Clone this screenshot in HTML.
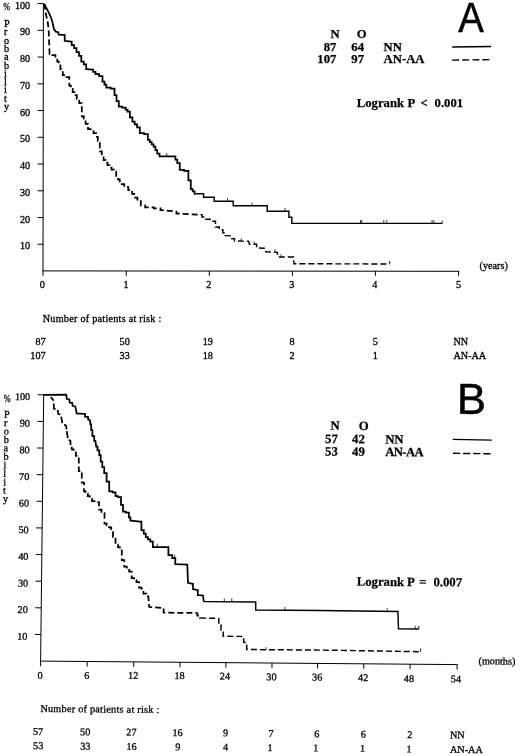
<!DOCTYPE html>
<html><head><meta charset="utf-8"><title>Figure</title>
<style>
html,body{margin:0;padding:0;background:#fff;}
svg{display:block;}
text{fill:#000;}
.r{font-family:"Liberation Serif",serif;font-size:10.2px;stroke:#000;stroke-width:0.3px;}
.b{font-family:"Liberation Serif",serif;font-size:12.7px;font-weight:bold;stroke:#000;stroke-width:0.25px;}
.big{font-family:"Liberation Sans",sans-serif;font-size:43.3px;stroke:#000;stroke-width:0.5px;}
</style></head><body>
<svg width="520" height="756" viewBox="0 0 520 756">
<rect x="0" y="0" width="520" height="756" fill="#fff"/>
<g stroke="#000" fill="none">
<line x1="43.40" y1="3.10" x2="43.00" y2="271.20" stroke-width="1.00" />
<line x1="42.60" y1="270.90" x2="459.10" y2="271.30" stroke-width="1.00" />
<line x1="37.60" y1="3.60" x2="43.40" y2="3.60" stroke-width="1.00" />
<line x1="37.60" y1="30.34" x2="43.40" y2="30.34" stroke-width="1.00" />
<line x1="37.60" y1="57.08" x2="43.40" y2="57.08" stroke-width="1.00" />
<line x1="37.60" y1="83.82" x2="43.40" y2="83.82" stroke-width="1.00" />
<line x1="37.60" y1="110.56" x2="43.40" y2="110.56" stroke-width="1.00" />
<line x1="37.60" y1="137.30" x2="43.40" y2="137.30" stroke-width="1.00" />
<line x1="37.60" y1="164.04" x2="43.40" y2="164.04" stroke-width="1.00" />
<line x1="37.60" y1="190.78" x2="43.40" y2="190.78" stroke-width="1.00" />
<line x1="37.60" y1="217.52" x2="43.40" y2="217.52" stroke-width="1.00" />
<line x1="37.60" y1="244.26" x2="43.40" y2="244.26" stroke-width="1.00" />
<line x1="43.00" y1="271.00" x2="43.00" y2="275.80" stroke-width="1.00" />
<line x1="126.25" y1="271.00" x2="126.25" y2="275.80" stroke-width="1.00" />
<line x1="209.30" y1="271.00" x2="209.30" y2="275.80" stroke-width="1.00" />
<line x1="292.40" y1="271.00" x2="292.40" y2="275.80" stroke-width="1.00" />
<line x1="375.40" y1="271.00" x2="375.40" y2="275.80" stroke-width="1.00" />
<line x1="458.60" y1="271.00" x2="458.60" y2="275.80" stroke-width="1.00" />
<path d="M44.2 3.8 L47.6 10.4 L50.5 16.3 L52.4 22.1 L53.9 28.8 L55.8 31.7 L55.8 31.7 L58.2 32.2 L58.7 34.6 L64.0 34.8 L64.7 34.8 L64.7 40.9 L65.4 40.9 L70.7 41.5 L71.7 41.5 L71.7 45.2 L72.6 45.2 L74.1 45.2 L74.1 48.0 L75.6 48.0 L76.5 48.0 L76.5 52.0 L77.5 52.0 L79.0 52.0 L79.0 55.8 L80.4 55.8 L81.3 55.8 L81.3 61.5 L82.3 61.5 L83.8 61.5 L83.8 64.4 L85.2 64.4 L86.2 64.4 L86.2 69.2 L87.1 69.2 L92.0 69.6 L93.2 69.6 L93.2 71.8 L95.5 71.8 L95.5 74.0 L96.7 74.0 L99.1 74.0 L99.1 76.0 L101.5 76.0 L102.5 76.0 L102.5 81.7 L103.5 81.7 L104.5 81.7 L104.5 84.6 L106.3 84.6 L106.3 87.5 L107.3 87.5 L110.7 87.5 L110.7 88.5 L114.0 88.5 L114.5 88.5 L114.5 95.2 L115.0 95.2 L116.5 95.2 L116.5 101.0 L117.9 101.0 L118.8 101.0 L118.8 106.7 L119.8 106.7 L122.2 106.7 L122.2 107.7 L124.6 107.7 L125.6 107.7 L125.6 109.6 L127.5 109.6 L127.5 111.5 L128.5 111.5 L129.9 111.5 L129.9 117.3 L131.3 117.3 L132.4 117.3 L132.4 121.5 L133.5 121.5 L134.7 121.5 L134.7 124.4 L137.1 124.4 L137.1 127.3 L138.3 127.3 L139.8 127.3 L139.8 133.0 L141.2 133.0 L144.1 133.0 L144.1 134.0 L146.9 134.0 L147.9 134.0 L147.9 139.8 L148.8 139.8 L149.8 139.8 L149.8 142.0 L151.7 142.0 L151.7 144.3 L153.6 144.3 L153.6 146.5 L154.6 146.5 L155.4 146.5 L155.4 150.0 L157.2 150.0 L157.2 153.5 L158.0 153.5 L159.5 153.5 L159.5 156.3 L161.0 156.3 L174.4 156.3 L175.4 156.3 L175.4 159.7 L177.3 159.7 L177.3 163.0 L178.3 163.0 L179.8 163.0 L179.8 169.8 L181.2 169.8 L184.1 169.8 L184.1 170.8 L187.0 170.8 L188.4 170.8 L188.4 180.4 L189.8 180.4 L190.8 180.4 L190.8 189.0 L191.7 189.0 L192.7 189.0 L192.7 191.4 L194.6 191.4 L194.6 193.8 L195.6 193.8" stroke-width="1.75" stroke-linejoin="miter"/>
<path d="M195.6 193.8 L203.6 193.8 L203.6 197.3 L214.2 197.3 L214.2 201.2 L233.2 201.2 L233.2 205.8 L267.2 205.8 L267.2 211.2 L288.9 211.2 L288.9 217.2 L291.8 217.2 L291.8 223.3 L442.0 223.4" stroke-width="1.40" stroke-linejoin="miter"/>
<line x1="442.00" y1="223.90" x2="442.30" y2="220.80" stroke-width="0.90" />
<line x1="166.70" y1="156.30" x2="166.70" y2="153.00" stroke-width="0.75" />
<line x1="227.50" y1="201.20" x2="227.50" y2="197.90" stroke-width="0.75" />
<line x1="252.00" y1="205.80" x2="252.00" y2="202.50" stroke-width="0.75" />
<line x1="285.00" y1="211.20" x2="285.00" y2="207.90" stroke-width="0.75" />
<line x1="360.50" y1="223.30" x2="360.50" y2="220.00" stroke-width="0.75" />
<line x1="361.70" y1="223.30" x2="361.70" y2="220.00" stroke-width="0.75" />
<line x1="383.80" y1="223.30" x2="383.80" y2="220.00" stroke-width="0.75" />
<line x1="386.80" y1="223.30" x2="386.80" y2="220.00" stroke-width="0.75" />
<line x1="432.00" y1="223.30" x2="432.00" y2="220.00" stroke-width="0.75" />
<line x1="433.80" y1="223.30" x2="433.80" y2="220.00" stroke-width="0.75" />
<path d="M44.3 3.8 L45.7 13.5 L47.6 21.2 L48.6 28.8 L49.0 38.5 L49.6 54.0 L49.6 54.0 L52.0 54.0 L52.0 55.0 L54.4 55.0 L55.4 55.0 L55.4 58.2 L57.3 58.2 L57.3 61.5 L58.3 61.5 L58.8 61.5 L58.8 63.5 L59.2 63.5 L60.4 63.5 L60.4 69.2 L62.8 69.2 L62.8 75.0 L64.0 75.0 L66.4 75.0 L66.4 77.0 L68.8 77.0 L69.3 77.0 L69.3 85.6 L69.8 85.6 L70.8 85.6 L70.8 88.8 L72.7 88.8 L72.7 92.0 L74.6 92.0 L74.6 95.2 L75.6 95.2 L76.8 95.2 L76.8 99.1 L79.2 99.1 L79.2 103.0 L80.4 103.0 L81.8 103.0 L81.8 116.3 L83.3 116.3 L83.8 116.3 L83.8 118.7 L84.4 118.7 L85.6 118.7 L85.6 123.9 L88.0 123.9 L88.0 129.2 L89.2 129.2 L90.7 129.2 L90.7 131.1 L93.5 131.1 L93.5 133.0 L95.0 133.0 L96.0 133.0 L96.0 136.9 L97.8 136.9 L97.8 140.8 L98.8 140.8 L99.8 140.8 L99.8 151.3 L100.8 151.3 L101.8 151.3 L101.8 155.7 L103.6 155.7 L103.6 160.0 L104.6 160.0 L105.6 160.0 L105.6 162.6 L107.5 162.6 L107.5 165.1 L109.4 165.1 L109.4 167.7 L110.4 167.7 L111.6 167.7 L111.6 169.6 L114.0 169.6 L114.0 171.5 L115.2 171.5 L116.2 171.5 L116.2 177.3 L117.1 177.3 L118.0 177.3 L118.0 179.3 L119.7 179.3 L119.7 181.3 L120.6 181.3 L121.8 181.3 L121.8 184.2 L124.2 184.2 L124.2 187.0 L125.4 187.0 L128.3 187.0 L128.3 190.0 L131.2 190.0 L132.1 190.0 L132.1 193.8 L134.1 193.8 L134.1 197.7 L135.0 197.7 L137.4 197.7 L137.4 199.6 L139.8 199.6 L140.8 199.6 L140.8 205.4 L141.7 205.4 L145.1 205.4 L145.1 207.3 L148.5 207.3 L153.8 207.3 L153.8 208.3 L159.0 208.3 L160.5 208.3 L160.5 210.2 L162.0 210.2 L175.4 211.5 L176.4 211.5 L176.4 213.5 L177.3 213.5 L200.6 214.8" stroke-width="1.75" stroke-linejoin="miter" stroke-dasharray="6 3"/>
<path d="M200.6 214.8 L202.0 214.8 L202.0 217.0 L204.9 217.0 L204.9 219.2 L206.3 219.2 L210.2 219.2 L210.2 221.2 L214.0 221.2 L215.5 221.2 L215.5 227.0 L217.0 227.0 L219.3 227.0 L219.3 229.8 L221.7 229.8 L222.9 229.8 L222.9 232.7 L225.3 232.7 L225.3 235.6 L226.5 235.6 L229.5 235.9 L230.2 235.9 L230.2 238.6 L231.0 238.6 L234.0 238.8 L234.5 238.8 L234.5 241.0 L235.0 241.0 L248.6 241.2 L249.4 244.2 L255.8 244.3 L256.6 244.3 L256.6 248.0 L257.3 248.0 L265.3 248.3 L265.8 251.8 L277.3 252.3 L278.0 257.0 L293.6 257.0 L293.9 263.7 L389.3 264.0" stroke-width="1.40" stroke-linejoin="miter" stroke-dasharray="6 3"/>
<line x1="389.50" y1="264.40" x2="389.80" y2="261.00" stroke-width="0.90" />
<line x1="241.20" y1="241.10" x2="241.20" y2="238.30" stroke-width="0.75" />
<line x1="254.20" y1="244.20" x2="254.20" y2="241.40" stroke-width="0.75" />
<line x1="275.00" y1="252.10" x2="275.00" y2="249.30" stroke-width="0.75" />
<line x1="281.00" y1="257.00" x2="281.00" y2="254.20" stroke-width="0.75" />
<line x1="452.10" y1="47.00" x2="491.10" y2="46.50" stroke-width="1.30" />
<line x1="452.10" y1="60.10" x2="490.20" y2="59.60" stroke-width="1.40" stroke-dasharray="7 3.1"/>
</g>
<text x="30.2" y="8.7" class="r" text-anchor="end" >100</text>
<text x="30.2" y="35.4" class="r" text-anchor="end" >90</text>
<text x="30.2" y="62.2" class="r" text-anchor="end" >80</text>
<text x="30.2" y="88.9" class="r" text-anchor="end" >70</text>
<text x="30.2" y="115.7" class="r" text-anchor="end" >60</text>
<text x="30.2" y="142.4" class="r" text-anchor="end" >50</text>
<text x="30.2" y="169.1" class="r" text-anchor="end" >40</text>
<text x="30.2" y="195.9" class="r" text-anchor="end" >30</text>
<text x="30.2" y="222.6" class="r" text-anchor="end" >20</text>
<text x="30.2" y="249.4" class="r" text-anchor="end" >10</text>
<text class="r" transform="translate(3.3 9.6) scale(0.8 1)">%</text>
<text x="4.0" y="27.0" class="r" text-anchor="start" >P</text>
<text x="4.0" y="35.3" class="r" text-anchor="start" >r</text>
<text x="4.0" y="43.6" class="r" text-anchor="start" >o</text>
<text x="4.0" y="51.9" class="r" text-anchor="start" >b</text>
<text x="4.0" y="60.2" class="r" text-anchor="start" >a</text>
<text x="4.0" y="68.5" class="r" text-anchor="start" >b</text>
<text x="4.0" y="76.8" class="r" text-anchor="start" >i</text>
<text x="4.0" y="85.1" class="r" text-anchor="start" >l</text>
<text x="4.0" y="93.4" class="r" text-anchor="start" >i</text>
<text x="4.0" y="101.7" class="r" text-anchor="start" >t</text>
<text x="4.0" y="110.0" class="r" text-anchor="start" >y</text>
<text x="42.4" y="288.2" class="r" text-anchor="middle" >0</text>
<text x="126.0" y="288.2" class="r" text-anchor="middle" >1</text>
<text x="208.9" y="288.2" class="r" text-anchor="middle" >2</text>
<text x="291.9" y="288.2" class="r" text-anchor="middle" >3</text>
<text x="374.8" y="288.2" class="r" text-anchor="middle" >4</text>
<text x="458.5" y="288.2" class="r" text-anchor="middle" >5</text>
<text x="479.6" y="269.0" class="r" text-anchor="start" >(years)</text>
<text x="42.7" y="322.2" class="r" text-anchor="start" textLength="118.6">Number of patients at risk :</text>
<text x="45.6" y="344.5" class="r" text-anchor="end" >87</text>
<text x="129.8" y="344.5" class="r" text-anchor="end" >50</text>
<text x="212.9" y="344.5" class="r" text-anchor="end" >19</text>
<text x="294.6" y="344.5" class="r" text-anchor="end" >8</text>
<text x="377.8" y="344.5" class="r" text-anchor="end" >5</text>
<text x="453.4" y="344.5" class="r" text-anchor="start" >NN</text>
<text x="45.6" y="359.0" class="r" text-anchor="end" >107</text>
<text x="129.8" y="359.0" class="r" text-anchor="end" >33</text>
<text x="212.9" y="359.0" class="r" text-anchor="end" >18</text>
<text x="294.6" y="359.0" class="r" text-anchor="end" >2</text>
<text x="377.8" y="359.0" class="r" text-anchor="end" >1</text>
<text x="453.4" y="359.0" class="r" text-anchor="start" >AN-AA</text>
<text x="335.0" y="37.6" class="b" text-anchor="middle" >N</text>
<text x="361.8" y="37.6" class="b" text-anchor="middle" >O</text>
<text x="336.4" y="50.8" class="b" text-anchor="end" >87</text>
<text x="364.0" y="50.8" class="b" text-anchor="end" >64</text>
<text x="383.6" y="50.8" class="b" text-anchor="start" >NN</text>
<text x="336.4" y="63.3" class="b" text-anchor="end" >107</text>
<text x="364.0" y="63.3" class="b" text-anchor="end" >97</text>
<text x="383.6" y="63.3" class="b" text-anchor="start" >AN-AA</text>
<text x="356.8" y="107.3" class="b" text-anchor="start" >Logrank</text>
<text x="407.4" y="107.3" class="b" text-anchor="start" >P</text>
<text x="420.6" y="107.3" class="b" text-anchor="start" >&lt;</text>
<text x="434.6" y="107.3" class="b" text-anchor="start" >0.001</text>
<text class="big" text-anchor="middle" transform="translate(471.0 31.8) scale(0.885 1)">A</text>
<g stroke="#000" fill="none">
<line x1="43.70" y1="394.30" x2="40.60" y2="661.60" stroke-width="1.00" />
<line x1="40.20" y1="661.10" x2="457.60" y2="664.60" stroke-width="1.00" />
<line x1="37.65" y1="394.75" x2="43.65" y2="394.80" stroke-width="1.00" />
<line x1="37.35" y1="421.38" x2="43.35" y2="421.43" stroke-width="1.00" />
<line x1="37.04" y1="448.01" x2="43.04" y2="448.06" stroke-width="1.00" />
<line x1="36.73" y1="474.64" x2="42.73" y2="474.69" stroke-width="1.00" />
<line x1="36.43" y1="501.27" x2="42.43" y2="501.32" stroke-width="1.00" />
<line x1="36.12" y1="527.90" x2="42.12" y2="527.95" stroke-width="1.00" />
<line x1="35.81" y1="554.53" x2="41.81" y2="554.58" stroke-width="1.00" />
<line x1="35.51" y1="581.16" x2="41.51" y2="581.21" stroke-width="1.00" />
<line x1="35.20" y1="607.79" x2="41.20" y2="607.84" stroke-width="1.00" />
<line x1="34.90" y1="634.42" x2="40.90" y2="634.47" stroke-width="1.00" />
<line x1="40.60" y1="661.10" x2="40.55" y2="666.10" stroke-width="1.00" />
<line x1="87.20" y1="661.49" x2="87.15" y2="666.49" stroke-width="1.00" />
<line x1="133.75" y1="661.88" x2="133.70" y2="666.88" stroke-width="1.00" />
<line x1="180.00" y1="662.27" x2="179.95" y2="667.27" stroke-width="1.00" />
<line x1="225.90" y1="662.66" x2="225.85" y2="667.66" stroke-width="1.00" />
<line x1="272.00" y1="663.04" x2="271.95" y2="668.04" stroke-width="1.00" />
<line x1="317.60" y1="663.43" x2="317.55" y2="668.43" stroke-width="1.00" />
<line x1="363.80" y1="663.81" x2="363.75" y2="668.81" stroke-width="1.00" />
<line x1="410.10" y1="664.20" x2="410.05" y2="669.20" stroke-width="1.00" />
<line x1="457.10" y1="664.60" x2="457.05" y2="669.60" stroke-width="1.00" />
<path d="M43.5 394.8 L66.3 394.7 L66.8 399.0 L69.3 399.2 L69.8 402.6 L72.2 402.8 L72.7 406.0 L75.2 406.2 L76.0 409.8 L76.7 413.3 L84.4 413.8 L85.0 413.8 L85.0 416.7 L85.5 416.7 L87.7 417.2 L88.2 417.2 L88.2 419.6 L88.8 419.6 L90.0 420.2 L90.4 424.4 L91.2 424.4 L91.2 430.2 L91.9 430.2 L92.4 430.2 L92.4 436.0 L92.9 436.0 L94.2 436.0 L94.2 440.8 L95.4 440.8 L96.2 446.5 L97.5 446.5 L97.5 450.4 L98.7 450.4 L99.3 450.4 L99.3 455.2 L100.0 455.2 L100.7 455.2 L100.7 461.5 L101.3 461.5 L102.3 461.5 L102.3 467.2 L104.2 467.2 L104.2 473.0 L105.2 473.0 L106.6 473.0 L106.6 481.7 L108.0 481.7 L109.2 481.7 L109.2 491.3 L110.4 491.3 L112.6 491.3 L112.6 492.3 L114.8 492.3 L115.5 492.3 L115.5 496.0 L116.2 496.0 L117.9 496.0 L117.9 497.0 L119.6 497.0 L121.0 497.0 L121.0 504.8 L122.5 504.8 L123.0 504.8 L123.0 511.5 L123.5 511.5 L125.9 511.5 L125.9 512.5 L128.3 512.5 L128.9 512.5 L128.9 517.3 L129.6 517.3 L130.4 517.3 L130.4 520.6 L131.3 520.6 L140.0 521.5 L141.4 521.5 L141.4 530.2 L142.9 530.2 L143.8 530.2 L143.8 533.6 L145.8 533.6 L145.8 537.0 L146.7 537.0 L147.9 537.0 L147.9 539.4 L150.3 539.4 L150.3 541.7 L151.5 541.7 L152.9 541.7 L152.9 547.0 L154.4 547.0 L167.0 547.0 L168.4 547.0 L168.4 555.2 L169.8 555.2 L172.2 555.2 L172.2 558.0 L174.6 558.0 L175.3 558.0 L175.3 564.2 L176.0 564.2 L187.3 564.6 L188.0 582.9 L192.5 583.8 L193.0 583.8 L193.0 589.2 L193.5 589.2 L197.3 590.0 L197.8 590.0 L197.8 595.0 L198.3 595.0 L203.0 595.5 L203.8 601.6" stroke-width="1.75" stroke-linejoin="miter"/>
<path d="M203.8 601.6 L255.0 601.9 L255.7 601.9 L255.7 610.0 L256.3 610.0 L320.0 610.5 L397.9 611.5 L398.5 628.8 L418.6 629.0" stroke-width="1.45" stroke-linejoin="miter"/>
<line x1="418.60" y1="629.50" x2="418.90" y2="626.00" stroke-width="0.90" />
<line x1="157.30" y1="547.00" x2="157.30" y2="543.70" stroke-width="0.75" />
<line x1="174.60" y1="558.00" x2="174.60" y2="554.70" stroke-width="0.75" />
<line x1="224.30" y1="601.70" x2="224.30" y2="598.40" stroke-width="0.75" />
<line x1="231.80" y1="601.70" x2="231.80" y2="598.40" stroke-width="0.75" />
<line x1="285.00" y1="610.30" x2="285.00" y2="607.00" stroke-width="0.75" />
<line x1="387.20" y1="611.40" x2="387.20" y2="608.10" stroke-width="0.75" />
<line x1="415.20" y1="629.00" x2="415.20" y2="625.70" stroke-width="0.75" />
<path d="M50.8 397.1 L53.7 400.6" stroke-width="1.7"/>
<path d="M53.7 403.5 L54.0 408.9 L55.6 409.2" stroke-width="1.7"/>
<path d="M57.7 409.8 L58.3 414.0 L60.4 414.4" stroke-width="1.7"/>
<path d="M61.2 416.7 L62.3 423.1" stroke-width="1.7"/>
<path d="M64.0 424.8 L65.8 425.2 L66.7 429.4" stroke-width="1.7"/>
<path d="M66.7 431.2 L67.8 438.1" stroke-width="1.7"/>
<path d="M68.7 440.2 L70.4 440.6 L70.6 445.2" stroke-width="1.7"/>
<path d="M70.8 447.5 L71.8 447.5 L71.8 449.4 L73.6 449.4 L73.6 451.3 L74.6 451.3 L75.9 451.3 L75.9 455.8 L77.3 455.8 L78.8 455.8 L78.8 471.0 L80.2 471.0 L81.8 471.0 L81.8 482.7 L83.5 482.7 L84.0 482.7 L84.0 491.3 L84.6 491.3 L85.6 491.3 L85.6 493.6 L87.8 493.6 L87.8 496.0 L88.8 496.0 L89.8 496.0 L89.8 498.5 L92.0 498.5 L92.0 501.0 L93.0 501.0 L95.8 501.0 L95.8 502.0 L98.5 502.0 L99.0 502.0 L99.0 509.6 L99.4 509.6 L101.5 509.6 L101.5 512.9 L103.5 512.9 L104.5 512.9 L104.5 523.5 L105.4 523.5 L106.6 523.5 L106.6 525.4 L109.0 525.4 L109.0 527.3 L110.2 527.3 L111.2 527.3 L111.2 532.1 L113.0 532.1 L113.0 537.0 L114.0 537.0 L115.5 537.0 L115.5 544.6 L117.0 544.6 L118.0 544.6 L118.0 547.0 L119.8 547.0 L119.8 549.4 L120.8 549.4 L121.8 549.4 L121.8 560.0 L122.7 560.0 L124.2 560.0 L124.2 566.7 L125.6 566.7 L126.8 566.7 L126.8 569.1 L129.2 569.1 L129.2 571.5 L130.4 571.5 L131.7 571.5 L131.7 578.0 L132.9 578.0 L134.1 578.0 L134.1 580.0 L136.5 580.0 L136.5 582.0 L137.7 582.0 L139.1 582.0 L139.1 587.7 L140.6 587.7 L141.6 587.7 L141.6 590.6 L143.4 590.6 L143.4 593.5 L144.4 593.5 L146.4 593.5 L146.4 596.3 L148.3 596.3 L149.2 607.0 L162.7 607.9 L163.6 607.9 L163.6 612.7 L164.6 612.7 L196.3 613.0 L197.3 613.0 L197.3 615.5 L199.2 615.5 L199.2 618.0 L200.2 618.0" stroke-width="1.75" stroke-linejoin="miter" stroke-dasharray="6 3"/>
<path d="M200.2 618.0 L218.0 618.4 L218.8 618.4 L218.8 625.0 L219.5 625.0 L221.0 625.0 L221.0 630.0 L222.5 630.0 L223.2 630.0 L223.2 636.3 L223.8 636.3 L242.5 636.4 L243.6 636.5 L243.8 642.3 L246.6 642.5 L246.8 649.5 L330.0 650.2 L418.8 651.7" stroke-width="1.45" stroke-linejoin="miter" stroke-dasharray="6 3"/>
<line x1="420.30" y1="651.80" x2="420.70" y2="648.50" stroke-width="0.90" />
<line x1="266.00" y1="650.00" x2="266.00" y2="647.20" stroke-width="0.75" />
<line x1="452.80" y1="439.40" x2="491.80" y2="440.20" stroke-width="1.30" />
<line x1="453.00" y1="453.30" x2="491.00" y2="453.80" stroke-width="1.40" stroke-dasharray="7.2 2.9"/>
</g>
<text x="30.2" y="400.1" class="r" text-anchor="end" transform="rotate(0.50 30.2 400.1)" >100</text>
<text x="29.9" y="426.7" class="r" text-anchor="end" transform="rotate(0.50 29.9 426.7)" >90</text>
<text x="29.6" y="453.4" class="r" text-anchor="end" transform="rotate(0.50 29.6 453.4)" >80</text>
<text x="29.3" y="480.0" class="r" text-anchor="end" transform="rotate(0.50 29.3 480.0)" >70</text>
<text x="29.0" y="506.6" class="r" text-anchor="end" transform="rotate(0.50 29.0 506.6)" >60</text>
<text x="28.7" y="533.2" class="r" text-anchor="end" transform="rotate(0.50 28.7 533.2)" >50</text>
<text x="28.4" y="559.9" class="r" text-anchor="end" transform="rotate(0.50 28.4 559.9)" >40</text>
<text x="28.1" y="586.5" class="r" text-anchor="end" transform="rotate(0.50 28.1 586.5)" >30</text>
<text x="27.8" y="613.1" class="r" text-anchor="end" transform="rotate(0.50 27.8 613.1)" >20</text>
<text x="27.4" y="639.8" class="r" text-anchor="end" transform="rotate(0.50 27.4 639.8)" >10</text>
<text class="r" transform="translate(3.8 401.7) scale(0.8 1)">%</text>
<text x="4.0" y="417.5" class="r" text-anchor="start" transform="rotate(0.50 4.0 417.5)" >P</text>
<text x="3.9" y="426.0" class="r" text-anchor="start" transform="rotate(0.50 3.9 426.0)" >r</text>
<text x="3.8" y="434.4" class="r" text-anchor="start" transform="rotate(0.50 3.8 434.4)" >o</text>
<text x="3.7" y="442.9" class="r" text-anchor="start" transform="rotate(0.50 3.7 442.9)" >b</text>
<text x="3.6" y="451.3" class="r" text-anchor="start" transform="rotate(0.50 3.6 451.3)" >a</text>
<text x="3.5" y="459.8" class="r" text-anchor="start" transform="rotate(0.50 3.5 459.8)" >b</text>
<text x="3.4" y="468.3" class="r" text-anchor="start" transform="rotate(0.50 3.4 468.3)" >i</text>
<text x="3.3" y="476.7" class="r" text-anchor="start" transform="rotate(0.50 3.3 476.7)" >l</text>
<text x="3.2" y="485.2" class="r" text-anchor="start" transform="rotate(0.50 3.2 485.2)" >i</text>
<text x="3.1" y="493.6" class="r" text-anchor="start" transform="rotate(0.50 3.1 493.6)" >t</text>
<text x="3.0" y="502.1" class="r" text-anchor="start" transform="rotate(0.50 3.0 502.1)" >y</text>
<text x="40.0" y="678.9" class="r" text-anchor="middle" transform="rotate(0.50 40.0 678.9)" >0</text>
<text x="86.8" y="678.9" class="r" text-anchor="middle" transform="rotate(0.50 86.8 678.9)" >6</text>
<text x="133.2" y="678.8" class="r" text-anchor="middle" transform="rotate(0.50 133.2 678.8)" >12</text>
<text x="179.5" y="679.1" class="r" text-anchor="middle" transform="rotate(0.50 179.5 679.1)" >18</text>
<text x="224.9" y="679.5" class="r" text-anchor="middle" transform="rotate(0.50 224.9 679.5)" >24</text>
<text x="271.4" y="680.2" class="r" text-anchor="middle" transform="rotate(0.50 271.4 680.2)" >30</text>
<text x="317.2" y="680.6" class="r" text-anchor="middle" transform="rotate(0.50 317.2 680.6)" >36</text>
<text x="363.2" y="681.1" class="r" text-anchor="middle" transform="rotate(0.50 363.2 681.1)" >42</text>
<text x="408.9" y="682.0" class="r" text-anchor="middle" transform="rotate(0.50 408.9 682.0)" >48</text>
<text x="455.9" y="682.4" class="r" text-anchor="middle" transform="rotate(0.50 455.9 682.4)" >54</text>
<text x="478.5" y="664.2" class="r" text-anchor="start" transform="rotate(0.50 478.5 664.2)" >(months)</text>
<text x="40.4" y="711.9" class="r" text-anchor="start" transform="rotate(0.50 40.4 711.9)" textLength="118.9">Number of patients at risk :</text>
<text x="38.1" y="734.9" class="r" text-anchor="middle" transform="rotate(0.50 38.1 734.9)" >57</text>
<text x="85.2" y="735.3" class="r" text-anchor="middle" transform="rotate(0.50 85.2 735.3)" >50</text>
<text x="131.4" y="735.6" class="r" text-anchor="middle" transform="rotate(0.50 131.4 735.6)" >27</text>
<text x="177.6" y="736.0" class="r" text-anchor="middle" transform="rotate(0.50 177.6 736.0)" >16</text>
<text x="225.5" y="736.4" class="r" text-anchor="middle" transform="rotate(0.50 225.5 736.4)" >9</text>
<text x="271.0" y="736.8" class="r" text-anchor="middle" transform="rotate(0.50 271.0 736.8)" >7</text>
<text x="316.7" y="737.2" class="r" text-anchor="middle" transform="rotate(0.50 316.7 737.2)" >6</text>
<text x="363.4" y="737.6" class="r" text-anchor="middle" transform="rotate(0.50 363.4 737.6)" >6</text>
<text x="409.9" y="738.0" class="r" text-anchor="middle" transform="rotate(0.50 409.9 738.0)" >2</text>
<text x="450.0" y="738.3" class="r" text-anchor="start" transform="rotate(0.50 450.0 738.3)" >NN</text>
<text x="38.2" y="749.1" class="r" text-anchor="middle" transform="rotate(0.50 38.2 749.1)" >53</text>
<text x="85.3" y="749.5" class="r" text-anchor="middle" transform="rotate(0.50 85.3 749.5)" >33</text>
<text x="131.5" y="749.8" class="r" text-anchor="middle" transform="rotate(0.50 131.5 749.8)" >16</text>
<text x="177.7" y="750.2" class="r" text-anchor="middle" transform="rotate(0.50 177.7 750.2)" >9</text>
<text x="225.6" y="750.6" class="r" text-anchor="middle" transform="rotate(0.50 225.6 750.6)" >4</text>
<text x="270.1" y="751.0" class="r" text-anchor="middle" transform="rotate(0.50 270.1 751.0)" >1</text>
<text x="315.8" y="751.4" class="r" text-anchor="middle" transform="rotate(0.50 315.8 751.4)" >1</text>
<text x="362.5" y="751.8" class="r" text-anchor="middle" transform="rotate(0.50 362.5 751.8)" >1</text>
<text x="409.0" y="752.2" class="r" text-anchor="middle" transform="rotate(0.50 409.0 752.2)" >1</text>
<text x="450.0" y="752.8" class="r" text-anchor="start" transform="rotate(0.50 450.0 752.8)" >AN-AA</text>
<text x="335.0" y="429.8" class="b" text-anchor="middle" transform="rotate(0.50 335.0 429.8)" >N</text>
<text x="363.6" y="430.0" class="b" text-anchor="middle" transform="rotate(0.50 363.6 430.0)" >O</text>
<text x="337.8" y="443.0" class="b" text-anchor="end" transform="rotate(0.50 337.8 443.0)" >57</text>
<text x="364.8" y="443.2" class="b" text-anchor="end" transform="rotate(0.50 364.8 443.2)" >42</text>
<text x="385.2" y="443.4" class="b" text-anchor="start" transform="rotate(0.50 385.2 443.4)" >NN</text>
<text x="337.8" y="455.6" class="b" text-anchor="end" transform="rotate(0.50 337.8 455.6)" >53</text>
<text x="364.8" y="455.8" class="b" text-anchor="end" transform="rotate(0.50 364.8 455.8)" >49</text>
<text x="385.2" y="456.0" class="b" text-anchor="start" transform="rotate(0.50 385.2 456.0)" textLength="38.6">AN-AA</text>
<text x="356.8" y="585.6" class="b" text-anchor="start" transform="rotate(0.50 356.8 585.6)" >Logrank</text>
<text x="407.0" y="586.0" class="b" text-anchor="start" transform="rotate(0.50 407.0 586.0)" >P</text>
<text x="419.2" y="586.1" class="b" text-anchor="start" transform="rotate(0.50 419.2 586.1)" >=</text>
<text x="433.5" y="586.2" class="b" text-anchor="start" transform="rotate(0.50 433.5 586.2)" >0.007</text>
<text class="big" text-anchor="middle" transform="translate(471.3 413.9) rotate(0.5) scale(1.01 1)">B</text>
</svg>
</body></html>
